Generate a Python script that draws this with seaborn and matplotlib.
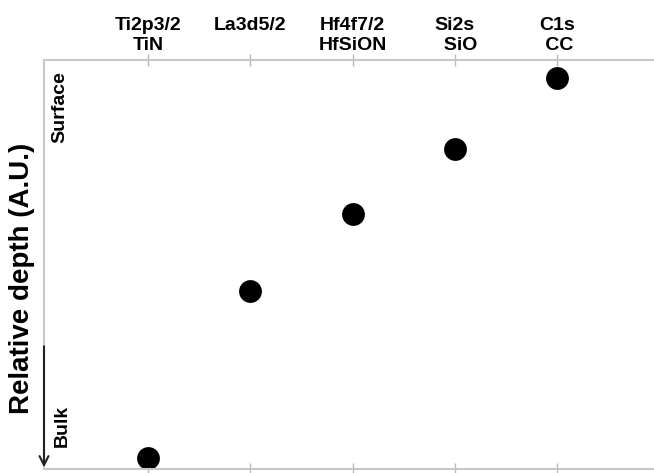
import matplotlib
matplotlib.use('Agg')
import matplotlib.pyplot as plt
import seaborn as sns
import pandas as pd

# core levels (top line) and chemical species (second line)
orbitals = ['Ti2p3/2', 'La3d5/2', 'Hf4f7/2', 'Si2s', 'C1s']
species = ['TiN', ' ', 'HfSiON', '  SiO', ' CC']
depth = [2.7, 43.5, 62.3, 78.2, 95.6]

sns.set_style('white')
plt.rcParams['font.family'] = ['Liberation Sans', 'DejaVu Sans']
plt.rcParams['text.color'] = 'black'
plt.rcParams['axes.labelcolor'] = 'black'
plt.rcParams['xtick.labelcolor'] = 'black'

df = pd.DataFrame({'pos': range(len(orbitals)), 'depth': depth})

fig = plt.figure(figsize=(6.54, 4.73), dpi=100)
ax = fig.add_axes([44/654, 4/473, 610/654, 409/473])

sns.scatterplot(data=df, x='pos', y='depth', s=270, color='black',
                linewidth=0, ax=ax, legend=False, clip_on=False)

ax.set_xlim(-1.02, 4.95)
ax.set_ylim(0, 100)

ax.set_xticks(range(len(orbitals)))
ax.set_xticklabels([f'{o}\n{s}' for o, s in zip(orbitals, species)],
                   fontsize=14, fontweight='bold', linespacing=1.25)
ax.tick_params(axis='x', top=True, bottom=True, labeltop=True, labelbottom=False,
               direction='inout', length=8, width=1, color='#b8b8b8', pad=0)
ax.set_yticks([])
ax.set_xlabel('')

for side in ['top', 'bottom', 'left']:
    ax.spines[side].set_color('#c8c8c8')
    ax.spines[side].set_linewidth(1.5)
ax.spines['right'].set_visible(False)

# arrow pointing towards the bulk
ax.annotate('', xy=(0, 0.004), xytext=(0, 0.30), xycoords='axes fraction',
            arrowprops=dict(arrowstyle='->', color='#222222', lw=1.5,
                            mutation_scale=16, shrinkA=0, shrinkB=0),
            annotation_clip=False)

ax.text(0.026, 0.885, 'Surface', rotation=90, ha='center', va='center',
        fontsize=14, fontweight='bold', transform=ax.transAxes)
ax.text(0.030, 0.105, 'Bulk', rotation=90, ha='center', va='center',
        fontsize=14, fontweight='bold', transform=ax.transAxes)

ax.set_ylabel('Relative depth (A.U.)', fontsize=20, fontweight='bold', va='center')
ax.yaxis.set_label_coords(-0.036, 0.467)

fig.savefig('out.png', dpi=100)
